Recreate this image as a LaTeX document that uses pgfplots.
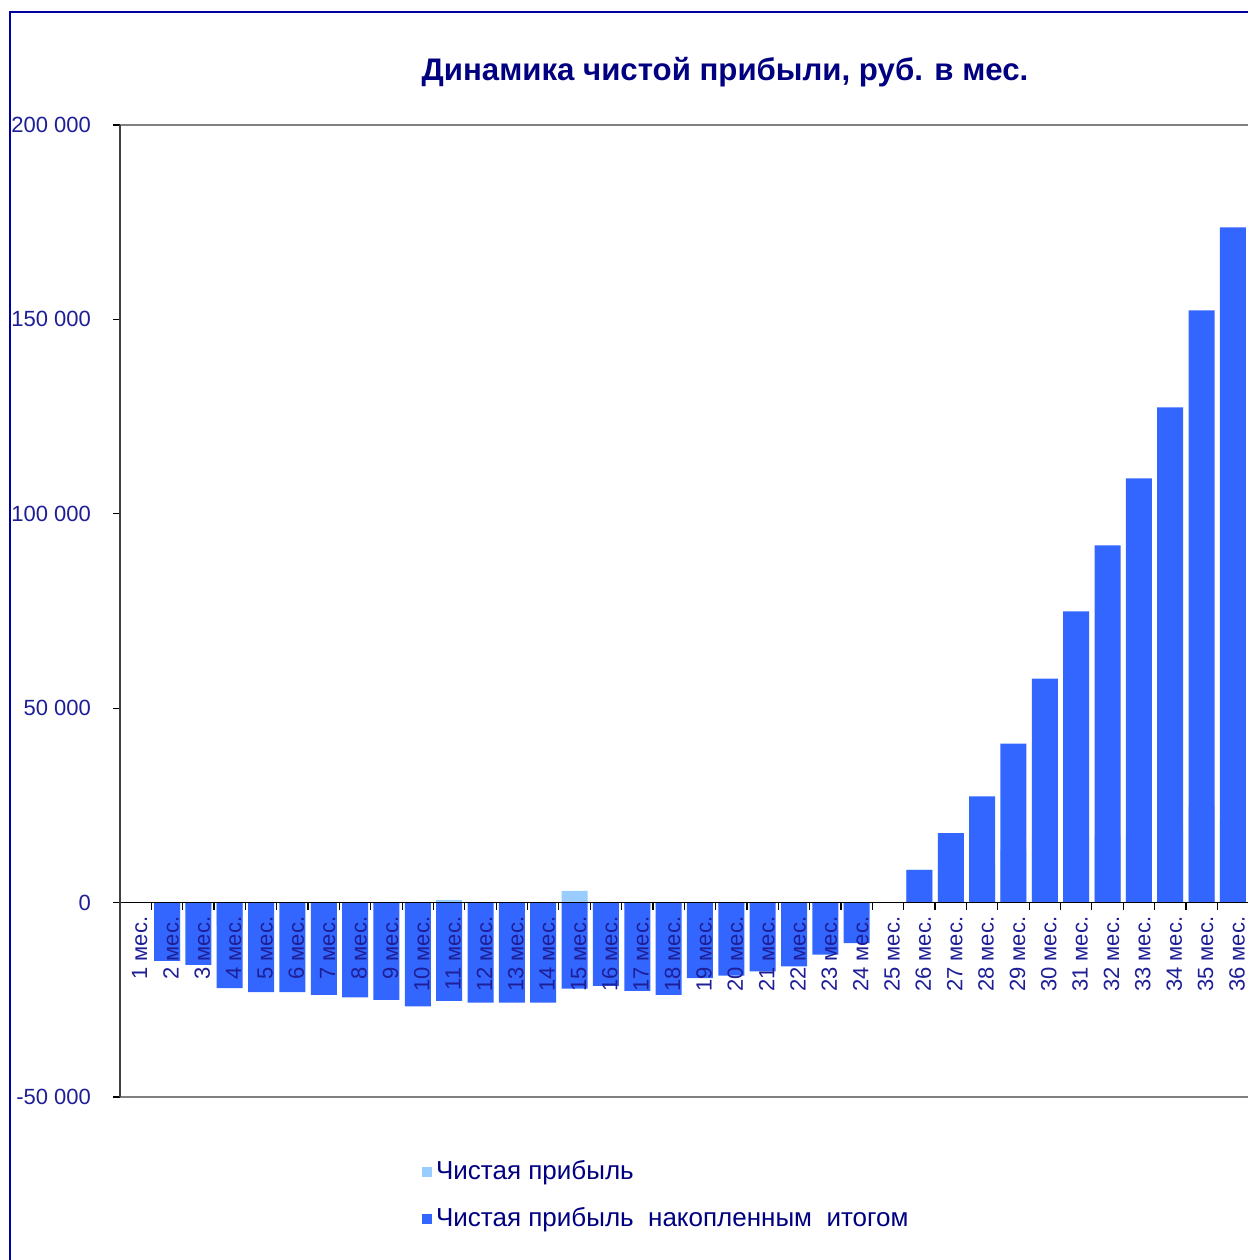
\documentclass[border=0pt]{standalone}
\usepackage{pgfplots}
\pgfplotsset{compat=1.18}
\usepackage{pgfplotstable}
\usepackage{fontspec}
\setmainfont{Liberation Sans}
\definecolor{navytxt}{RGB}{0,0,128}
\definecolor{ticktxt}{RGB}{30,30,150}
\definecolor{frameblue}{RGB}{0,0,160}
\definecolor{lightbar}{RGB}{153,204,255}
\definecolor{darkbar}{RGB}{51,102,255}

\pgfplotstableread{
m monthly cum
1 0 0
2 -15000 -15000
3 -1000 -16000
4 -6000 -22000
5 -1000 -23000
6 -300 -23000
7 -700 -23700
8 -700 -24400
9 -600 -25000
10 -1700 -26700
11 700 -25300
12 -350 -25700
13 -100 -25700
14 -100 -25700
15 3000 -22100
16 -500 -21400
17 -1300 -22700
18 -1000 -23700
19 -500 -19400
20 -500 -18800
21 -500 -17700
22 -500 -16400
23 -500 -13400
24 -500 -10400
25 0 0
26 8400 8400
27 9500 17900
28 9300 27300
29 13600 40900
30 16700 57600
31 17200 74900
32 17000 91900
33 17200 109100
34 18300 127400
35 24900 152300
36 21400 173700
}\data

\begin{document}
\begin{tikzpicture}[x=1pt,y=1pt]
\useasboundingbox (0,0) rectangle (624,-630);
\clip (0,0) rectangle (624,-630);
\draw[frameblue, line width=0.9pt] (5,-6) rectangle (800,-800);
\node[font=\bfseries\fontsize{15.6}{18}\selectfont, text=navytxt] at (362.5,-36) {Динамика чистой прибыли, руб. в мес.};
\begin{axis}[
  at={(60pt,-548.5pt)}, anchor=south west,
  scale only axis, width=564.3pt, height=486pt,
  xmin=0.5, xmax=36.5, ymin=-50000, ymax=200000,
  axis x line=middle, axis y line=left,
  axis on top,
  scaled y ticks=false,
  x axis line style={-, black, line width=0.6pt},
  y axis line style={-, black!75, line width=1pt},
  clip=false,
  xtick={1,...,36},
  xticklabels={1 мес.,2 мес.,3 мес.,4 мес.,5 мес.,6 мес.,7 мес.,8 мес.,9 мес.,10 мес.,11 мес.,12 мес.,13 мес.,14 мес.,15 мес.,16 мес.,17 мес.,18 мес.,19 мес.,20 мес.,21 мес.,22 мес.,23 мес.,24 мес.,25 мес.,26 мес.,27 мес.,28 мес.,29 мес.,30 мес.,31 мес.,32 мес.,33 мес.,34 мес.,35 мес.,36 мес.},
  xticklabel style={rotate=90, anchor=east, font=\fontsize{11}{12}\selectfont, text=ticktxt, yshift=-2pt},
  minor xtick={1.5,2.5,...,36.5},
  major x tick style={draw=none},
  minor x tick style={black, line width=0.6pt},
  minor tick length=3.5pt, major tick length=3.5pt,
  xtick align=outside,
  ytick={-50000,0,50000,100000,150000,200000},
  yticklabels={-50 000,0,50 000,100 000,150 000,200 000},
  yticklabel style={font=\fontsize{11}{12}\selectfont, text=ticktxt, xshift=-7.5pt},
  ytick align=outside,
  major y tick style={black, line width=0.6pt},
  legend cell align=left,
  legend style={at={(0.262,-0.057)}, anchor=north west, draw=none, fill=none,
    font=\fontsize{13}{15}\selectfont, text=navytxt, row sep=8.5pt,
    legend columns=1, nodes={inner xsep=2pt}},
  legend image code/.code={\fill[#1] (0pt,-2.5pt) rectangle (5pt,2.5pt);},
]
\addplot[ybar, bar width=0.83, bar shift=0pt, fill=lightbar, draw=none] table[x=m, y=monthly] {\data};
\addlegendentry{Чистая прибыль}
\addplot[ybar, bar width=0.83, bar shift=0pt, fill=darkbar, draw=none] table[x=m, y=cum] {\data};
\addlegendentry{Чистая прибыль\ \ накопленным\ \ итогом}
\draw[gray, line width=1pt] (rel axis cs:0,1) -- (rel axis cs:1,1);
\draw[gray, line width=1pt] (rel axis cs:0,0) -- (rel axis cs:1,0);
\end{axis}
\end{tikzpicture}
\end{document}
